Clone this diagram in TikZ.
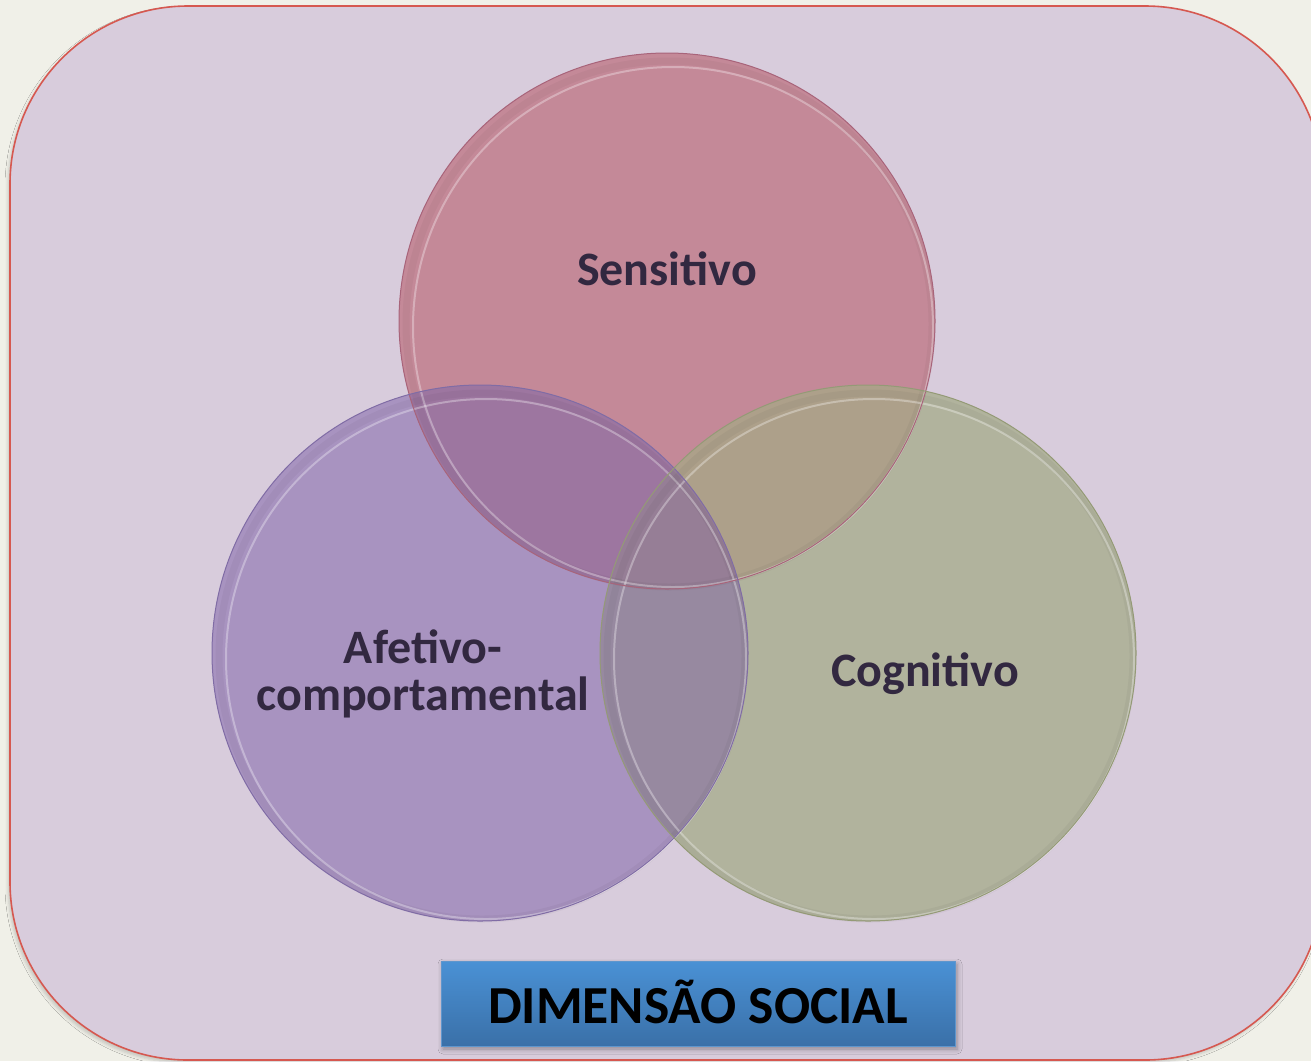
\documentclass[tikz,border=0pt]{standalone}
\usepackage{fontspec}
\setmainfont{Carlito}
\usetikzlibrary{shadows.blur}
\definecolor{pagebg}{RGB}{240,240,232}
\definecolor{panel}{RGB}{216,204,220}
\definecolor{panelrule}{RGB}{214,88,80}
\definecolor{sens}{RGB}{196,137,152}
\definecolor{afet}{RGB}{168,147,192}
\definecolor{cogn}{RGB}{177,179,157}
\definecolor{sa}{RGB}{157,118,160}
\definecolor{sc}{RGB}{173,160,138}
\definecolor{ac}{RGB}{151,137,160}
\definecolor{sac}{RGB}{150,126,150}
\definecolor{txt}{RGB}{50,40,64}
\definecolor{sensedge}{RGB}{168,100,122}
\definecolor{afetedge}{RGB}{128,108,165}
\definecolor{cognedge}{RGB}{148,154,118}
\definecolor{boxtop}{RGB}{74,145,213}
\definecolor{boxbot}{RGB}{58,112,168}
\definecolor{boxedge}{RGB}{95,150,205}
\begin{document}
\begin{tikzpicture}[x=1pt,y=-1pt,
  lbl/.style={text=txt, font=\fontsize{48}{47}\selectfont\bfseries, align=center, inner sep=0pt},
  rimlight/.style={draw=white, draw opacity=0.32, line width=2pt},
  rimdark/.style={draw=black, draw opacity=0.035, line width=7pt},
]
\useasboundingbox (0,0) rectangle (1311,1061);
\clip (0,0) rectangle (1311,1061);
\fill[pagebg] (0,0) rectangle (1311,1061);
\draw[panelrule, line width=1.6pt, fill=panel, rounded corners=178pt,
  blur shadow={shadow xshift=-2pt, shadow yshift=-3pt, shadow opacity=18, shadow blur radius=3pt}]
  (10,6) rectangle (1323,1060);
% circle centres
\coordinate (cS) at (667,321);
\coordinate (cA) at (480,653);
\coordinate (cC) at (868,653);
\def\R{268pt}
\def\Ri{260pt}
% fills
\fill[sens] (cS) circle (\R);
\fill[afet] (cA) circle (\R);
\fill[cogn] (cC) circle (\R);
\begin{scope}
  \clip (cS) circle (\R);
  \fill[sa] (cA) circle (\R);
  \fill[sc] (cC) circle (\R);
\end{scope}
\begin{scope}
  \clip (cA) circle (\R);
  \fill[ac] (cC) circle (\R);
  \clip (cC) circle (\R);
  \fill[sac] (cS) circle (\R);
\end{scope}
% bevel rims
\foreach \c in {cS,cA,cC}{
  \draw[rimdark] ([shift={(2,3)}]\c) circle (263pt);
  \draw[rimlight] ([shift={(6,6)}]\c) circle (\Ri);
}
\draw[sensedge, line width=1pt] (cS) circle (\R);
\draw[afetedge, line width=1pt] (cA) circle (\R);
\draw[cognedge, line width=1pt] (cC) circle (\R);
% labels
\node[lbl, anchor=base] (tS) at (667,285) {Sensitivo};
\node[lbl, anchor=base] (tC) at (925,686) {Cognitivo};
\node[lbl, anchor=base] (tA) at (423,710) {Afetivo-\\comportamental};
% title box
\node[draw=boxedge, line width=1pt, top color=boxtop, bottom color=boxbot,
  minimum width=514pt, minimum height=85pt, inner sep=0pt,
  text height=39pt, text depth=0pt, text=black,
  font=\fontsize{53.5}{53.5}\selectfont\bfseries,
  blur shadow={shadow xshift=2pt, shadow yshift=-3pt, shadow opacity=35, shadow blur radius=5pt}]
  (dim) at (698,1003.5) {DIMENSÃO SOCIAL};
\end{tikzpicture}
\end{document}
